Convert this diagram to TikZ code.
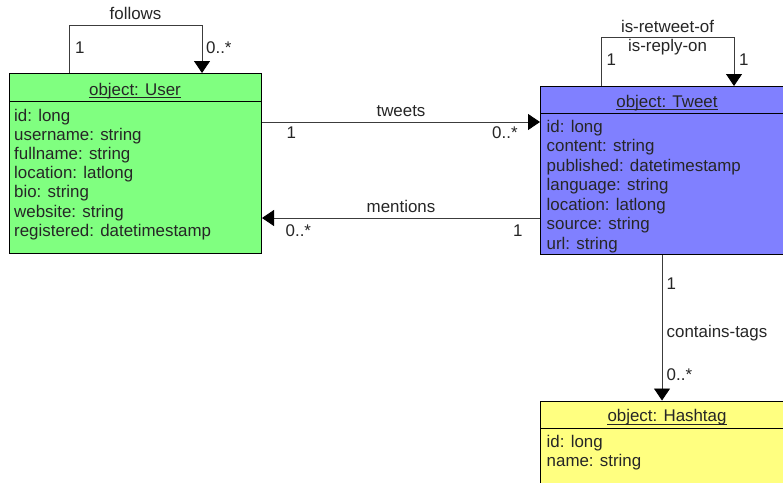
\documentclass[tikz,border=0pt]{standalone}
\usepackage{fontspec}
\setmainfont{Liberation Sans}
\usetikzlibrary{arrows.meta,calc}
\definecolor{usergreen}{HTML}{80FF80}
\definecolor{tweetblue}{HTML}{8080FF}
\definecolor{tagyellow}{HTML}{FFFF80}
\definecolor{linegray}{HTML}{3C3C3C}
\tikzset{
  classbox/.style={draw=black, line width=1pt, anchor=north west, inner sep=0pt},
  attr/.style={anchor=base west, inner sep=0pt, text=black!85},
  lbl/.style={anchor=base, inner sep=0pt, text=black!85},
  lbll/.style={anchor=base west, inner sep=0pt, text=black!85},
  conn/.style={draw=linegray, line width=0.9pt},
  arr/.style={conn, -{Triangle[length=12pt,width=16pt,black]}},
  uline/.style={draw=black!85, line width=0.8pt},
}
\begin{document}
\begin{tikzpicture}[x=1pt,y=-1pt,font=\fontsize{16.9}{19.3}\selectfont]
\useasboundingbox (0,0) rectangle (783,482);
\clip (0,0) rectangle (783,482);
\fill[white] (0,0) rectangle (783,482);

% ---- User ----
\node[classbox, fill=usergreen, minimum width=252pt, minimum height=180pt] (user) at (9,73) {};
\draw[line width=1pt] (9,101) -- (261,101);
\node[lbl] (usert) at (135,95) {object: User};
\draw[uline] ($(usert.base west)+(0,2.8)$) -- ($(usert.base east)+(0,2.8)$);
\node[attr] (u1) at (14,121) {id: long};
\node[attr] (u2) at (14,140.2) {username: string};
\node[attr] (u3) at (14,159.4) {fullname: string};
\node[attr] (u4) at (14,178.6) {location: latlong};
\node[attr] (u5) at (14,197.8) {bio: string};
\node[attr] (u6) at (14,217) {website: string};
\node[attr] (u7) at (14,236.2) {registered: datetimestamp};

% ---- Tweet ----
\node[classbox, fill=tweetblue, minimum width=254pt, minimum height=168pt] (tweet) at (540,86) {};
\draw[line width=1pt] (540,113) -- (794,113);
\node[lbl] (tweett) at (667,107) {object: Tweet};
\draw[uline] ($(tweett.base west)+(0,2.8)$) -- ($(tweett.base east)+(0,2.8)$);
\node[attr] (t1) at (546.5,132) {id: long};
\node[attr] (t2) at (546.5,151.5) {content: string};
\node[attr] (t3) at (546.5,171) {published: datetimestamp};
\node[attr] (t4) at (546.5,190.5) {language: string};
\node[attr] (t5) at (546.5,210) {location: latlong};
\node[attr] (t6) at (546.5,229.5) {source: string};
\node[attr] (t7) at (546.5,249) {url: string};

% ---- Hashtag ----
\node[classbox, fill=tagyellow, minimum width=254pt, minimum height=120pt] (tag) at (540,400.5) {};
\draw[line width=1pt] (540,428) -- (794,428);
\node[lbl] (tagt) at (667,421.5) {object: Hashtag};
\draw[uline] ($(tagt.base west)+(0,2.8)$) -- ($(tagt.base east)+(0,2.8)$);
\node[attr] (h1) at (546.5,447) {id: long};
\node[attr] (h2) at (546.5,466.5) {name: string};

% ---- follows (User self loop) ----
\coordinate (fa) at ($(user.north west)+(60,0)$);
\coordinate (fb) at ($(user.north west)+(193,0)$);
\draw[arr] (fa) -- ++(0,-48) -| (fb);
\node[lbl] (fol) at (135.5,19) {follows};
\node[lbll] (fol1) at (75,53) {1};
\node[lbll] (fol2) at (206,53) {0..*};

% ---- is-retweet-of / is-reply-on (Tweet self loop) ----
\coordinate (ra) at ($(tweet.north west)+(61,0)$);
\coordinate (rb) at ($(tweet.north west)+(194,0)$);
\draw[arr] (ra) -- ++(0,-49) -| (rb);
\node[lbl] (ret1) at (667.5,32) {is-retweet-of};
\node[lbl] (ret2) at (667.5,51) {is-reply-on};
\node[lbll] (ret3) at (606.5,65) {1};
\node[lbll] (ret4) at (739,65) {1};

% ---- tweets ----
\coordinate (tw1) at ($(user.north east)+(0,49)$);
\coordinate (tw2) at ($(tweet.north west)+(0,36)$);
\draw[arr] (tw1) -- (tw2);
\node[lbl] (twl) at (401,116) {tweets};
\node[lbll] (twa) at (286.5,138) {1};
\node[lbll] (twb) at (492,138) {0..*};

% ---- mentions ----
\coordinate (mn1) at ($(tweet.north west)+(0,132)$);
\coordinate (mn2) at ($(user.north east)+(0,145)$);
\draw[arr] (mn1) -- (mn2);
\node[lbl] (mnl) at (401,212.5) {mentions};
\node[lbll] (mna) at (285.5,236) {0..*};
\node[lbll] (mnb) at (513,236) {1};

% ---- contains-tags ----
\coordinate (ct1) at ($(tweet.south west)+(122,0)$);
\coordinate (ct2) at ($(tag.north west)+(122,0)$);
\draw[arr] (ct1) -- (ct2);
\node[lbll] (cta) at (666.5,289) {1};
\node[lbll] (ctl) at (666.5,337) {contains-tags};
\node[lbll] (ctb) at (666.5,380) {0..*};
\end{tikzpicture}
\end{document}
